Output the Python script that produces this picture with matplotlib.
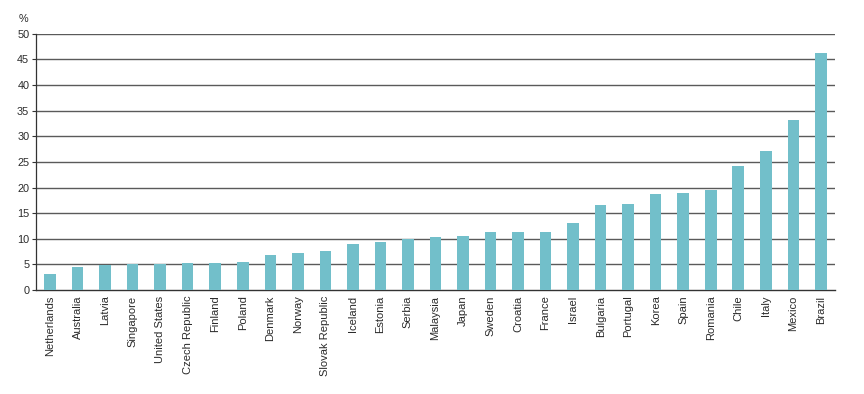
import numpy as np
import matplotlib.pyplot as plt

plt.rcParams['font.family'] = ['Liberation Sans', 'DejaVu Sans']

countries = ['Netherlands', 'Australia', 'Latvia', 'Singapore', 'United States',
             'Czech Republic', 'Finland', 'Poland', 'Denmark', 'Norway',
             'Slovak Republic', 'Iceland', 'Estonia', 'Serbia', 'Malaysia',
             'Japan', 'Sweden', 'Croatia', 'France', 'Israel', 'Bulgaria',
             'Portugal', 'Korea', 'Spain', 'Romania', 'Chile', 'Italy',
             'Mexico', 'Brazil']
values = [3.1, 4.5, 4.9, 5.0, 5.0, 5.2, 5.3, 5.5, 6.8, 7.3,
          7.7, 8.9, 9.3, 10.0, 10.4, 10.6, 11.3, 11.3, 11.3, 13.0, 16.6,
          16.7, 18.8, 19.0, 19.6, 24.3, 27.2, 33.1, 46.2]
yticks = [0, 5, 10, 15, 20, 25, 30, 35, 40, 45, 50]

fig = plt.figure(figsize=(8.64, 3.94), dpi=100)
ax = fig.add_axes([0.042, 0.264, 0.924, 0.650])

x = np.arange(len(countries))
ax.bar(x, values, width=0.42, color='#72bfca', zorder=3)

# horizontal rules every 5%
for t in yticks[1:]:
    ax.axhline(t, color='#5a5a5a', lw=1.0, zorder=1)

ax.set_xlim(-0.5, len(countries) - 0.5)
ax.set_ylim(0, 50)
ax.set_yticks(yticks)
ax.set_xticks(x)
ax.set_xticklabels(countries, rotation=90, fontsize=8, color='#2a2a2a')
ax.tick_params(axis='x', length=0, pad=4)
ax.tick_params(axis='y', length=3, width=0.8, pad=2, labelsize=7.8,
               labelcolor='#2a2a2a', color='#333333')

for s in ['top', 'right']:
    ax.spines[s].set_visible(False)
ax.spines['left'].set_color('#333333')
ax.spines['bottom'].set_color('#333333')
ax.spines['left'].set_linewidth(0.9)
ax.spines['bottom'].set_linewidth(1.0)

fig.text(0.021, 0.945, '%', fontsize=7.8, color='#2a2a2a')

fig.savefig('out.png', dpi=100)
